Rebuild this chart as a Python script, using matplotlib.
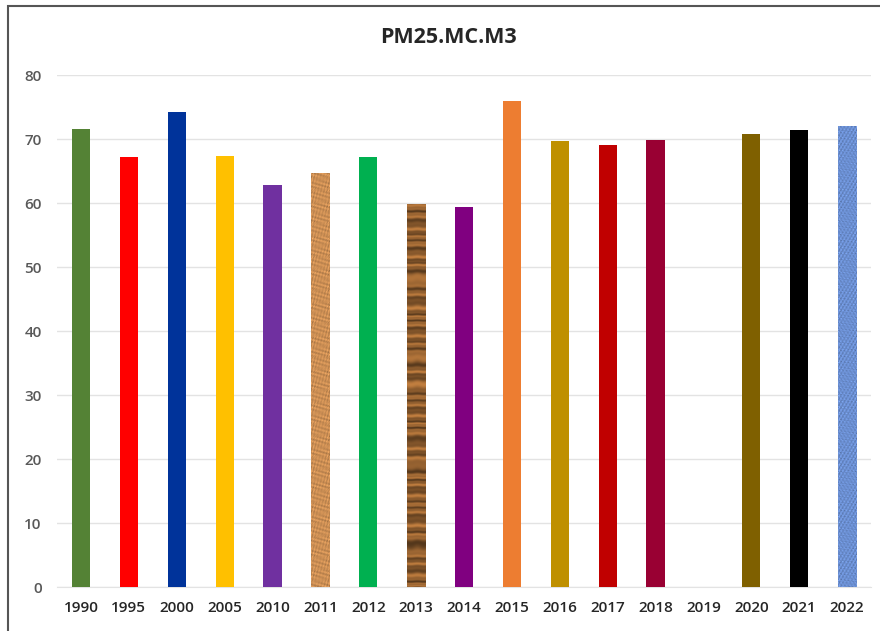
import numpy as np
import matplotlib
matplotlib.use("Agg")
import matplotlib.pyplot as plt
from matplotlib.patches import Rectangle

plt.rcParams['font.family'] = ['Open Sans', 'DejaVu Sans']

# Annual PM2.5 values (2019 has no reading)
years = ["1990", "1995", "2000", "2005", "2010", "2011", "2012", "2013", "2014",
         "2015", "2016", "2017", "2018", "2019", "2020", "2021", "2022"]
values = [71.6, 67.2, 74.2, 67.4, 62.8, 64.7, 67.2, 59.8, 59.4,
          76.0, 69.7, 69.1, 69.8, np.nan, 70.8, 71.4, 72.1]
colors = ["#548235", "#FF0000", "#00339A", "#FFC000", "#7030A0", "#C8915A",
          "#00B050", "#8A5A2B", "#800080", "#ED7D31", "#BF9000", "#C00000",
          "#990033", "#FFFFFF", "#7F6000", "#000000", "#5B7FC7"]
textures = {"2011": "cork", "2013": "wood", "2022": "weave"}

fig = plt.figure(figsize=(8.8, 6.31), dpi=100)
ax = fig.add_axes([0.0648, 0.0697, 0.925, 0.8113])

x = np.arange(len(years))
bar_w = 0.38
bars = ax.bar(x, np.nan_to_num(values), width=bar_w, color=colors, zorder=2)


def make_texture(kind, nx=18, ny=390):
    # pixel-scale coordinates so the pattern period is a few pixels
    u = np.arange(nx)[None, :].astype(float)
    v = np.arange(ny)[:, None].astype(float)
    if kind == "cork":
        n = (np.sin(u * 1.31 + v * 0.47) * np.sin(u * 0.83 - v * 0.91)
             + 0.7 * np.sin(u * 2.17 + v * 1.37 + 1.3) * np.cos(v * 0.61 - u * 1.71)
             + 0.5 * np.sin(v * 2.3 + u * 0.4) * np.sin(u * 2.9 + v * 0.2))
        n = n / 2.2
        base = np.array([0.80, 0.56, 0.33])
        img = base[None, None, :] * (1 + 0.30 * n[..., None])
    elif kind == "wood":
        phase = v * 0.55 + 2.2 * np.sin(v * 0.071) + 1.1 * np.sin(v * 0.23) + 0.15 * np.sin(u * 0.5)
        n = 0.65 * np.sin(phase) + 0.35 * np.sin(phase * 2.3 + 0.7)
        base = np.array([0.55, 0.36, 0.18])
        img = base[None, None, :] * (1 + 0.40 * n[..., None])
    else:
        n = (np.sin(u * 1.9) * np.sin(v * 1.3)
             + 0.8 * np.sin(u * 1.1 + v * 0.77) * np.cos(v * 1.93 - u * 0.67)
             + 0.4 * np.sin(v * 2.9 + u * 2.3))
        n = n / 2.2
        base = np.array([0.42, 0.56, 0.82])
        img = base[None, None, :] * (1 + 0.32 * n[..., None])
    return np.clip(img, 0, 1)


for bar, yr in zip(bars, years):
    if yr in textures:
        x0 = bar.get_x()
        h = bar.get_height()
        im = ax.imshow(make_texture(textures[yr]),
                       extent=(x0, x0 + bar.get_width(), 0, h),
                       aspect="auto", interpolation="bilinear",
                       origin="lower", zorder=3)
        im.set_clip_path(bar)

ax.set_xlim(-0.5, len(years) - 0.5)
ax.set_ylim(0, 80)
ax.set_yticks(np.arange(0, 81, 10))
ax.set_xticks(x)
ax.set_xticklabels(years)

ax.grid(axis="y", color="#E3E3E3", linewidth=1.0, zorder=0)
for side in ("top", "right", "left"):
    ax.spines[side].set_visible(False)
ax.spines["bottom"].set_color("#E3E3E3")
ax.spines["bottom"].set_zorder(0)

ax.tick_params(axis="y", length=0, pad=11, labelsize=11, labelcolor="#595959")
ax.tick_params(axis="x", length=0, pad=10, labelsize=11, labelcolor="#262626")
for lbl in ax.get_xticklabels():
    lbl.set_fontweight("semibold")
for lbl in ax.get_yticklabels():
    lbl.set_fontweight("semibold")

fig.text(0.510, 0.941, "PM25.MC.M3", ha="center", va="center",
         fontsize=15.5, fontweight="bold", color="#262626")

# Outer frame along the top and left edges
fig.patches.append(Rectangle((8 / 880, -0.05), 1.1, (631 - 6) / 631 + 0.05,
                             transform=fig.transFigure, fill=False,
                             edgecolor="#555555", linewidth=1.5))

fig.savefig("out.png", dpi=100)
